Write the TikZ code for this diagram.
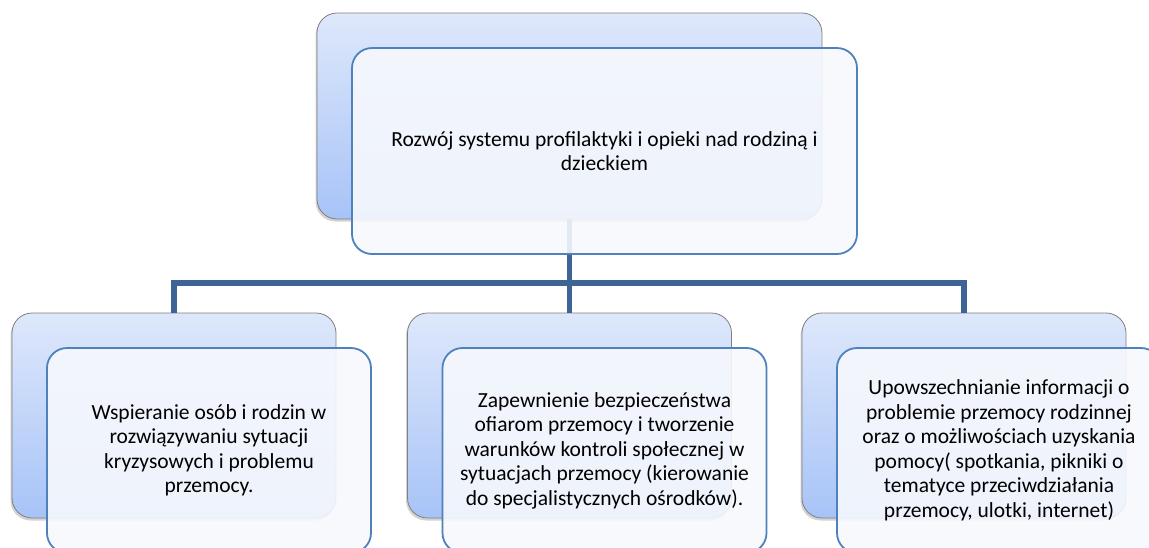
\documentclass[tikz,border=0pt]{standalone}
\usepackage{fontspec}
\setmainfont{Carlito}
\usetikzlibrary{shadows}
\definecolor{fondHaut}{HTML}{DEE8FB}
\definecolor{fondBas}{HTML}{A7C3F7}
\definecolor{grisBord}{HTML}{7F7F7F}
\definecolor{bleuBord}{HTML}{4F81BD}
\definecolor{fondAvant}{HTML}{F6F8FD}
\definecolor{bleuLien}{HTML}{3E6495}
\begin{document}
\begin{tikzpicture}[x=1pt,y=-1pt]
	% Styles
	\tikzstyle{lien}=[-,line width=5.5pt,draw=bleuLien,line join=miter]
	\tikzstyle{arriere}=[rounded corners=20pt,draw=grisBord,line width=0.8pt,top color=fondHaut,bottom color=fondBas,inner sep=0pt,
		drop shadow={shadow xshift=-1.5pt,shadow yshift=-2.5pt,opacity=0.35}]
	\tikzstyle{avant}=[rounded corners=20pt,draw=bleuBord,line width=1.8pt,fill=fondAvant,fill opacity=0.9,text opacity=1,
		inner sep=0pt,align=center,font=\fontsize{21.5}{24.5}\selectfont]
	% Dimensions
	\def\LargeurHaut{505pt}
	\def\HauteurHaut{206pt}
	\def\LargeurBas{324pt}
	\def\HauteurBas{205pt}
	\def\Decalage{35pt}
	\def\NiveauHaut{116}
	\def\NiveauJonction{283}
	\def\NiveauBas{415.5}
	\useasboundingbox (0,0) rectangle (1149,547);
	% Cadres arriere
	\node[arriere,minimum width=\LargeurHaut,minimum height=\HauteurHaut] (haut) at (569.5,\NiveauHaut) {};
	\node[arriere,minimum width=\LargeurBas,minimum height=\HauteurBas] (gauche) at (174,\NiveauBas) {};
	\node[arriere,minimum width=\LargeurBas,minimum height=\HauteurBas] (milieu) at (569.5,\NiveauBas) {};
	\node[arriere,minimum width=\LargeurBas,minimum height=\HauteurBas] (droite) at (964,\NiveauBas) {};
	% Liens
	\coordinate (jonction) at (569.5,\NiveauJonction);
	\draw[lien] (haut.south)--(jonction);
	\draw[lien] (jonction)-|(gauche.north);
	\draw[lien] (jonction)--(milieu.north);
	\draw[lien] (jonction)-|(droite.north);
	% Cadres avant
	\node[avant,minimum width=\LargeurHaut,minimum height=\HauteurHaut,xshift=\Decalage,yshift=-\Decalage] (hautTexte) at (haut)
		{Rozwój systemu profilaktyki i opieki nad rodziną i\\dzieckiem};
	\node[avant,minimum width=\LargeurBas,minimum height=\HauteurBas,xshift=\Decalage,yshift=-\Decalage] (gaucheTexte) at (gauche)
		{Wspieranie osób i rodzin w\\rozwiązywaniu sytuacji\\kryzysowych i problemu\\przemocy.};
	\node[avant,minimum width=\LargeurBas,minimum height=\HauteurBas,xshift=\Decalage,yshift=-\Decalage] (milieuTexte) at (milieu)
		{Zapewnienie bezpieczeństwa\\ofiarom przemocy i tworzenie\\warunków kontroli społecznej w\\sytuacjach przemocy (kierowanie\\do specjalistycznych ośrodków).};
	\node[avant,minimum width=\LargeurBas,minimum height=\HauteurBas,xshift=\Decalage,yshift=-\Decalage] (droiteTexte) at (droite)
		{Upowszechnianie informacji o\\problemie przemocy rodzinnej\\oraz o możliwościach uzyskania\\pomocy( spotkania, pikniki o\\tematyce przeciwdziałania\\przemocy, ulotki, internet)};
\end{tikzpicture}
\end{document}
